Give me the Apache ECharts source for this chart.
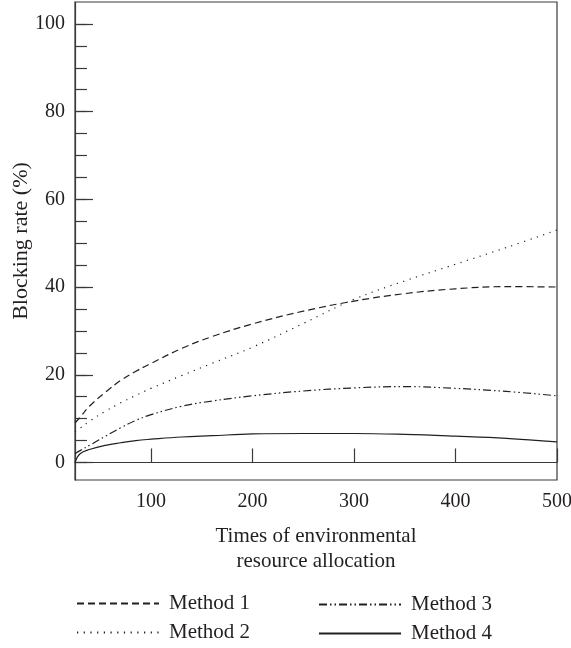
<!DOCTYPE html>
<html>
<head>
<meta charset="utf-8">
<script src="https://cdn.jsdelivr.net/npm/echarts@6/dist/echarts.min.js"></script>
<style>
  html, body { margin: 0; padding: 0; background: #fff; }
  #chart { width: 571px; height: 648px; }
</style>
</head>
<body>
<div id="chart"></div>
<script>
// x positions (times of allocation)
const xs = [25, 30, 40, 55, 70, 85, 100, 130, 160, 200, 250, 300, 350, 400, 450, 500]

// blocking rate (%) for each method
const method1 = [9.0, 10.3, 13.0, 16.0, 18.7, 20.8, 22.6, 26.0, 28.7, 31.6, 34.5, 36.8, 38.5, 39.6, 40.1, 40.0]
const method2 = [7.0, 7.8, 9.5, 11.7, 13.6, 15.3, 16.9, 19.8, 22.6, 26.3, 31.7, 37.2, 41.4, 45.2, 49.0, 53.0]
const method3 = [2.0, 2.7, 4.0, 6.0, 7.9, 9.6, 10.9, 12.8, 14.0, 15.2, 16.3, 17.0, 17.3, 16.9, 16.2, 15.2]
const method4 = [0.0, 2.0, 3.0, 3.9, 4.5, 5.0, 5.3, 5.8, 6.1, 6.5, 6.6, 6.6, 6.4, 6.0, 5.5, 4.7]

const xLabels = [100, 200, 300, 400, 500]
const yLabels = [0, 20, 40, 60, 80, 100]
const yMinorTicks = [0, 5, 10, 15, 20, 25, 30, 35, 40, 45, 50, 55, 60, 65, 70, 75, 80, 85, 90, 95, 100]

const FONT = 'Liberation Serif'
const INK = '#231f20'

const pairs = arr => xs.map((x, i) => [x, arr[i]])

const makeSeries = (name, data, type) => ({
  name: name,
  type: 'line',
  data: pairs(data),
  smooth: 0.4,
  symbol: 'none',
  lineStyle: { color: INK, width: 1.2, type: type },
  itemStyle: { color: INK }
})

// one legend per item so each can sit where the original puts it
const makeLegend = (name, left, top) => ({
  data: [name],
  left: left,
  top: top,
  padding: 0,
  itemWidth: 82,
  itemHeight: 14,
  itemStyle: { opacity: 0 },
  textStyle: { fontFamily: FONT, fontSize: 21, color: INK, padding: [0, 0, 0, 5] }
})

const chart = echarts.init(document.getElementById('chart'))

chart.setOption({
  animation: false,
  backgroundColor: '#fff',
  grid: {
    left: 75, right: 14, top: 2, bottom: 168,
    show: true,
    borderColor: '#3a3a3a',
    borderWidth: 1.2,
    outerBoundsMode: 'none'
  },
  legend: [
    makeLegend('Method 1', 76, 593),
    makeLegend('Method 2', 76, 622),
    makeLegend('Method 3', 318, 594),
    makeLegend('Method 4', 318, 623)
  ],
  xAxis: {
    type: 'value',
    min: 25,
    max: 500,
    name: 'Times of environmental\nresource allocation',
    nameLocation: 'middle',
    nameGap: 44,
    nameMoveOverlap: false,
    nameTextStyle: { fontFamily: FONT, fontSize: 21, color: INK, lineHeight: 25 },
    axisLine: { show: true, lineStyle: { color: '#3a3a3a', width: 1.2 } },
    axisTick: { show: true, inside: true, length: 14, customValues: xLabels, lineStyle: { color: '#3a3a3a', width: 1.2 } },
    axisLabel: { customValues: xLabels, margin: 12, fontFamily: FONT, fontSize: 20, color: INK },
    splitLine: { show: false }
  },
  yAxis: [
    {
      type: 'value',
      min: -4,
      max: 105,
      axisLine: { show: true, lineStyle: { color: '#3a3a3a', width: 1.2 } },
      axisTick: { show: true, inside: true, length: 12, customValues: yMinorTicks, lineStyle: { color: '#3a3a3a', width: 1.2 } },
      axisLabel: { show: false },
      splitLine: { show: false }
    },
    {
      type: 'value',
      min: -4,
      max: 105,
      position: 'left',
      offset: 0,
      name: 'Blocking rate (%)',
      nameLocation: 'middle',
      nameGap: 43,
      nameMoveOverlap: false,
      nameTextStyle: { fontFamily: FONT, fontSize: 22, color: INK },
      axisLine: { show: false },
      axisTick: { show: true, inside: true, length: 18, customValues: yLabels, lineStyle: { color: '#3a3a3a', width: 1.2 } },
      axisLabel: { customValues: yLabels, margin: 10, fontFamily: FONT, fontSize: 20, color: INK },
      splitLine: { show: false }
    }
  ],
  series: [
    makeSeries('Method 1', method1, [7, 4]),
    makeSeries('Method 2', method2, [1.2, 5.5]),
    makeSeries('Method 3', method3, [8, 3, 1.5, 3, 1.5, 3]),
    makeSeries('Method 4', method4, 'solid')
  ]
})
</script>
</body>
</html>
